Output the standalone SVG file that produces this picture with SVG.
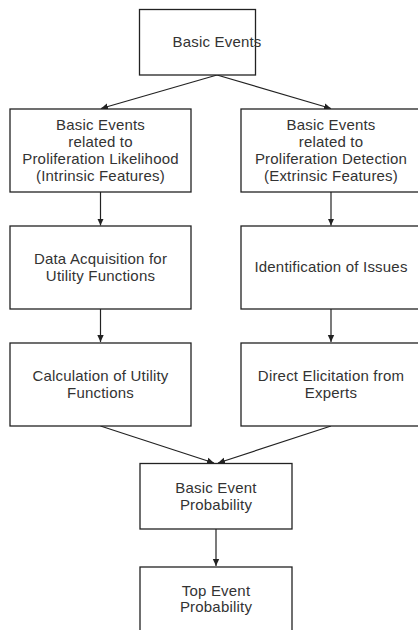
<svg xmlns="http://www.w3.org/2000/svg" width="418" height="630" viewBox="0 0 418 630">
<style>
.box{fill:#fff;stroke:#222;stroke-width:1.3}
.t{font-family:"Liberation Sans",Arial,sans-serif;font-size:15px;letter-spacing:0.2px;fill:#333;text-anchor:middle}
.c{stroke:#222;stroke-width:1.2;fill:none}
</style>
<defs>
<marker id="ah" markerWidth="8" markerHeight="8" refX="7" refY="4" orient="auto" markerUnits="userSpaceOnUse">
<path d="M0,0.8 L7,4 L0,7.2 Z" fill="#222"/>
</marker>
</defs>
<rect width="418" height="630" fill="#fff"/>
<g id="connectors">
<line class="c" x1="217" y1="75" x2="101" y2="108.5" marker-end="url(#ah)"/>
<line class="c" x1="217" y1="75" x2="331" y2="108.5" marker-end="url(#ah)"/>
<line class="c" x1="100.5" y1="192" x2="100.5" y2="225.5" marker-end="url(#ah)"/>
<line class="c" x1="331" y1="192" x2="331" y2="225.5" marker-end="url(#ah)"/>
<line class="c" x1="100.5" y1="309" x2="100.5" y2="342" marker-end="url(#ah)"/>
<line class="c" x1="331" y1="309" x2="331" y2="342" marker-end="url(#ah)"/>
<line class="c" x1="100.5" y1="426" x2="214" y2="463" marker-end="url(#ah)"/>
<line class="c" x1="331" y1="426" x2="218" y2="463" marker-end="url(#ah)"/>
<line class="c" x1="216" y1="529" x2="216" y2="566" marker-end="url(#ah)"/>
</g>
<g id="basic-events">
<rect class="box" x="139.5" y="9.5" width="116" height="65.5"/>
<text class="t" x="217" y="47">Basic Events</text>
</g>
<g id="intrinsic">
<rect class="box" x="10" y="109" width="181" height="83"/>
<text class="t" x="100.5" y="130">Basic Events</text>
<text class="t" x="100.5" y="147">related to</text>
<text class="t" x="100.5" y="164">Proliferation Likelihood</text>
<text class="t" x="100.5" y="181">(Intrinsic Features)</text>
</g>
<g id="extrinsic">
<rect class="box" x="241" y="109" width="181" height="83"/>
<text class="t" x="331" y="130">Basic Events</text>
<text class="t" x="331" y="147">related to</text>
<text class="t" x="331" y="164">Proliferation Detection</text>
<text class="t" x="331" y="181">(Extrinsic Features)</text>
</g>
<g id="data-acquisition">
<rect class="box" x="10" y="226" width="181" height="83"/>
<text class="t" x="100.5" y="264">Data Acquisition for</text>
<text class="t" x="100.5" y="281">Utility Functions</text>
</g>
<g id="identification">
<rect class="box" x="241" y="226" width="181" height="83"/>
<text class="t" x="331" y="272">Identification of Issues</text>
</g>
<g id="calculation">
<rect class="box" x="10" y="343" width="181" height="83"/>
<text class="t" x="100.5" y="381">Calculation of Utility</text>
<text class="t" x="100.5" y="398">Functions</text>
</g>
<g id="elicitation">
<rect class="box" x="241" y="343" width="181" height="83"/>
<text class="t" x="331" y="381">Direct Elicitation from</text>
<text class="t" x="331" y="398">Experts</text>
</g>
<g id="basic-event-probability">
<rect class="box" x="140" y="463.5" width="152" height="65.5"/>
<text class="t" x="216" y="492.5">Basic Event</text>
<text class="t" x="216" y="510">Probability</text>
</g>
<g id="top-event-probability">
<rect class="box" x="140" y="567" width="152" height="70"/>
<text class="t" x="216" y="595.5">Top Event</text>
<text class="t" x="216" y="612">Probability</text>
</g>
</svg>
